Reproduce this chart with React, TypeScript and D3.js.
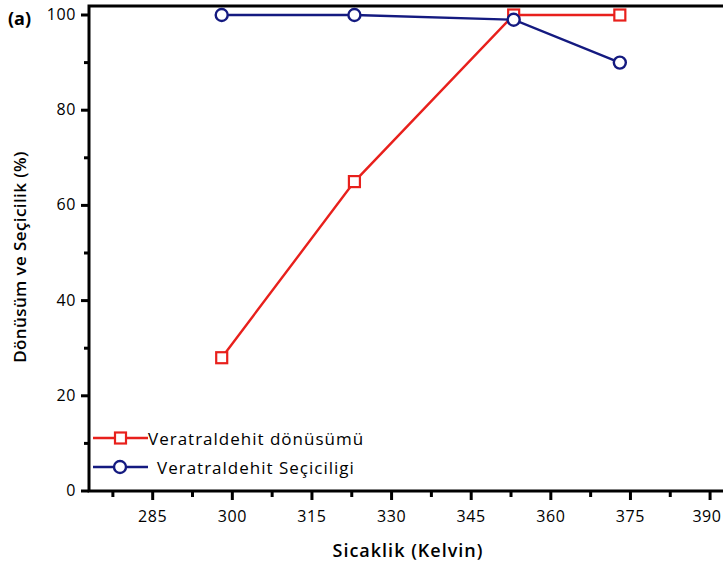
import React, { useEffect, useRef } from "react";
import * as d3 from "d3";

const temps = [298, 323, 353, 373];
const conversion = [28, 65, 100, 100];
const selectivity = [100, 100, 99, 90];
const xTicks = [285, 300, 315, 330, 345, 360, 375, 390];
const yTicks = [0, 20, 40, 60, 80, 100];
const legendLabels = ["Veratraldehit dönüsümü", "Veratraldehit Seçiciligi"];

const RED = "#e8201c";
const BLUE = "#141a80";
const FONT = "'Open Sans', 'DejaVu Sans', sans-serif";

const App = () => {
  const svgRef = useRef<SVGSVGElement>(null);

  useEffect(() => {
    const svg = d3.select(svgRef.current);
    svg.selectAll("*").remove();

    const width = 723;
    const left = 89;
    const top = 6;
    const bottom = 491;

    // x domain runs past the right edge, the picture is cropped there
    const x = d3.scaleLinear().domain([273, 285]).range([left, 152.7]);
    const y = d3.scaleLinear().domain([0, 100]).range([bottom, 15]);

    // frame: left, bottom, top
    svg.append("path")
      .attr("d", `M${width + 5},${top} H${left} V${bottom} H${width + 5}`)
      .attr("fill", "none")
      .attr("stroke", "black")
      .attr("stroke-width", 3);

    // y ticks
    const yMinor = d3.range(10, 100, 20);
    svg.selectAll(".ymaj").data(yTicks).enter().append("line")
      .attr("x1", left - 8).attr("x2", left)
      .attr("y1", (d) => y(d)).attr("y2", (d) => y(d))
      .attr("stroke", "black").attr("stroke-width", 3);
    svg.selectAll(".ymin").data(yMinor).enter().append("line")
      .attr("x1", left - 5).attr("x2", left)
      .attr("y1", (d) => y(d)).attr("y2", (d) => y(d))
      .attr("stroke", "black").attr("stroke-width", 3);
    svg.selectAll(".ylab").data(yTicks).enter().append("text")
      .attr("x", left - 13).attr("y", (d) => y(d) + 5)
      .attr("text-anchor", "end")
      .style("font-family", FONT).style("font-size", "16px")
      .style("letter-spacing", "0.6px")
      .text((d) => d);

    // x ticks
    const xMinor = d3.range(277.5, 400, 15);
    svg.selectAll(".xmaj").data(xTicks).enter().append("line")
      .attr("x1", (d) => x(d)).attr("x2", (d) => x(d))
      .attr("y1", bottom).attr("y2", bottom + 9)
      .attr("stroke", "black").attr("stroke-width", 3);
    svg.selectAll(".xmin").data(xMinor).enter().append("line")
      .attr("x1", (d) => x(d)).attr("x2", (d) => x(d))
      .attr("y1", bottom).attr("y2", bottom + 6)
      .attr("stroke", "black").attr("stroke-width", 3);
    svg.selectAll(".xlab").data(xTicks).enter().append("text")
      .attr("x", (d) => Math.min(x(d), 707)).attr("y", bottom + 31)
      .attr("text-anchor", "middle")
      .style("font-family", FONT).style("font-size", "16px")
      .style("letter-spacing", "0.6px")
      .text((d) => d);

    // axis titles
    svg.append("text")
      .attr("x", 408).attr("y", 557)
      .attr("text-anchor", "middle")
      .style("font-family", FONT).style("font-size", "18px").style("font-weight", "600")
      .style("letter-spacing", "1px")
      .text("Sicaklik (Kelvin)");
    svg.append("text")
      .attr("transform", `translate(26, 257) rotate(-90)`)
      .attr("text-anchor", "middle")
      .style("font-family", FONT).style("font-size", "17px").style("font-weight", "600")
      .style("letter-spacing", "0.4px")
      .text("Dönüsüm ve Seçicilik (%)");
    svg.append("text")
      .attr("x", 8).attr("y", 25)
      .style("font-family", FONT).style("font-size", "18px").style("font-weight", "bold")
      .text("(a)");

    const line = d3.line<number>().x((d, i) => x(temps[i])).y((d) => y(d));

    // conversion series
    svg.append("path").datum(conversion)
      .attr("d", line).attr("fill", "none")
      .attr("stroke", RED).attr("stroke-width", 2.4);
    svg.selectAll(".sq").data(conversion).enter().append("rect")
      .attr("x", (d, i) => x(temps[i]) - 5.5).attr("y", (d) => y(d) - 5.5)
      .attr("width", 11).attr("height", 11)
      .attr("fill", "white").attr("stroke", RED).attr("stroke-width", 2.2);

    // selectivity series
    svg.append("path").datum(selectivity)
      .attr("d", line).attr("fill", "none")
      .attr("stroke", BLUE).attr("stroke-width", 2.4);
    svg.selectAll(".ci").data(selectivity).enter().append("circle")
      .attr("cx", (d, i) => x(temps[i])).attr("cy", (d) => y(d))
      .attr("r", 6)
      .attr("fill", "white").attr("stroke", BLUE).attr("stroke-width", 2.4);

    // legend
    const lg = svg.append("g");
    lg.append("line").attr("x1", 93).attr("x2", 148).attr("y1", 438).attr("y2", 438)
      .attr("stroke", RED).attr("stroke-width", 2.4);
    lg.append("rect").attr("x", 115).attr("y", 432.5).attr("width", 11).attr("height", 11)
      .attr("fill", "white").attr("stroke", RED).attr("stroke-width", 2.2);
    lg.append("text").attr("x", 148).attr("y", 445)
      .style("font-family", FONT).style("font-size", "17px")
      .style("letter-spacing", "1px")
      .text(legendLabels[0]);
    lg.append("line").attr("x1", 93).attr("x2", 148).attr("y1", 467).attr("y2", 467)
      .attr("stroke", BLUE).attr("stroke-width", 2.4);
    lg.append("circle").attr("cx", 120).attr("cy", 467).attr("r", 6)
      .attr("fill", "white").attr("stroke", BLUE).attr("stroke-width", 2.4);
    lg.append("text").attr("x", 157).attr("y", 474)
      .style("font-family", FONT).style("font-size", "17px")
      .style("letter-spacing", "1px")
      .text(legendLabels[1]);
  }, []);

  return (
    <svg
      ref={svgRef}
      width={723}
      height={570}
      style={{ position: "absolute", left: 0, top: 0, background: "white" }}
    ></svg>
  );
};

export default App;
